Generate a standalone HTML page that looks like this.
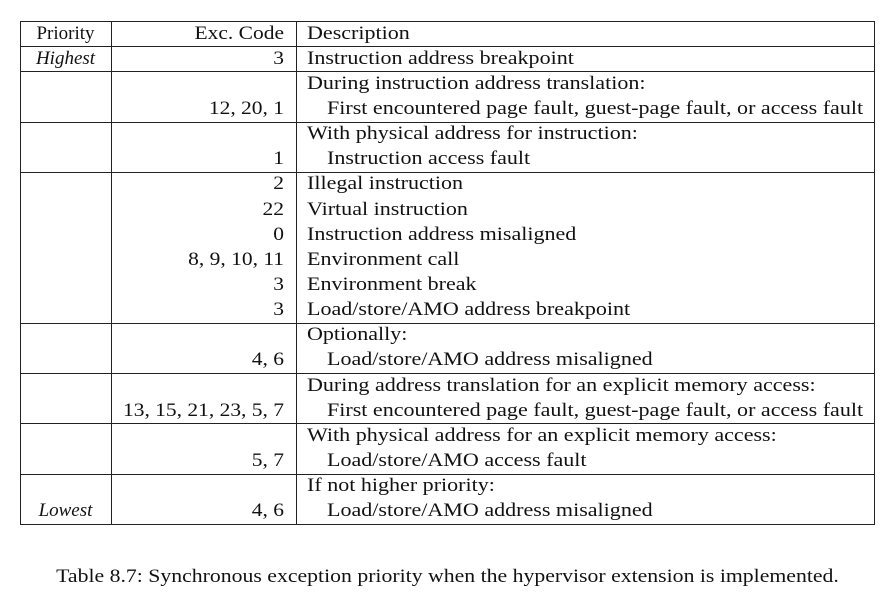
<!DOCTYPE html>
<html><head><meta charset="utf-8"><style>
body{margin:0;background:#fff;width:895px;height:602px;position:relative;overflow:hidden;font-family:"Liberation Serif",serif;font-size:19px;color:#111}
.h{position:absolute;left:20px;width:855px;height:1px;background:#222}
.v{position:absolute;top:21px;width:1px;height:503px;background:#222}
.t{position:absolute;white-space:nowrap;line-height:20px;transform:scaleX(1.16);transform-origin:left center}
.r{text-align:right;width:180px;left:104px;transform-origin:right center;transform:scaleX(1.13)}
.p{left:20px;width:91px;text-align:center;font-style:italic;transform-origin:center center;transform:scaleX(1.0)}
</style></head><body>
<div id="tbl"></div>
<div class="t" style="left:0;width:895px;text-align:center;top:567px;transform-origin:center center;transform:scaleX(1.145)">Table 8.7: Synchronous exception priority when the hypervisor extension is implemented.</div>
<script>
const P=25.15,T=21;
const hl=[0,1,2,4,6,12,14,16,18,20];
const tbl=document.getElementById('tbl');
hl.forEach(k=>{const d=document.createElement('div');d.className='h';d.style.top=Math.round(T+P*k)+'px';


tbl.appendChild(d);});
[20,111,296,874].forEach(x=>{const d=document.createElement('div');d.className='v';d.style.left=x+'px';


tbl.appendChild(d);});
const rows=[
[0,'','Exc. Code','Description',0,'Priority'],
[1,'','3','Instruction address breakpoint',0,'Highest'],
[2,'','','During instruction address translation:',0],
[3,'','12, 20, 1','First encountered page fault, guest-page fault, or access fault',1],
[4,'','','With physical address for instruction:',0],
[5,'','1','Instruction access fault',1],
[6,'','2','Illegal instruction',0],
[7,'','22','Virtual instruction',0],
[8,'','0','Instruction address misaligned',0],
[9,'','8, 9, 10, 11','Environment call',0],
[10,'','3','Environment break',0],
[11,'','3','Load/store/AMO address breakpoint',0],
[12,'','','Optionally:',0],
[13,'','4, 6','Load/store/AMO address misaligned',1],
[14,'','','During address translation for an explicit memory access:',0],
[15,'','13, 15, 21, 23, 5, 7','First encountered page fault, guest-page fault, or access fault',1],
[16,'','','With physical address for an explicit memory access:',0],
[17,'','5, 7','Load/store/AMO access fault',1],
[18,'','','If not higher priority:',0],
[19,'','4, 6','Load/store/AMO address misaligned',1,'Lowest']
];
rows.forEach(r=>{const y=T+P*r[0]+2.5;
const c=document.createElement('div');c.className='t r';c.style.top=y+'px';c.textContent=r[2];


tbl.appendChild(c);
const d=document.createElement('div');d.className='t';d.style.top=y+'px';d.style.left=(r[4]?327:307)+'px';d.textContent=r[3];


tbl.appendChild(d);
if(r[5]){const p=document.createElement('div');p.className='t p';p.style.top=y+'px';p.textContent=r[5];
if(r[0]===0)p.style.fontStyle='normal';


tbl.appendChild(p);}
});
</script>
</body></html>
